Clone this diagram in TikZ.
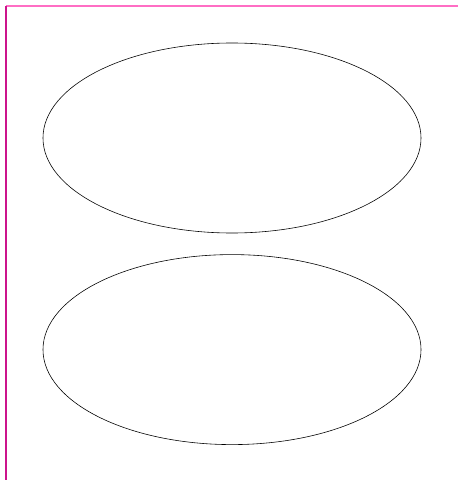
\documentclass[tikz,border=0pt]{standalone}
\usepackage{xcolor}
\usepackage{tikz}
\usetikzlibrary{shapes.geometric,positioning}
\definecolor{framepink}{RGB}{255,110,196}
\definecolor{framemagenta}{RGB}{204,20,140}

\begin{document}
\begin{tikzpicture}[x=0.03cm, y=-0.03cm,
    oval/.style={draw=black, ellipse, line width=0.5pt, minimum width=11.34cm, minimum height=5.7cm, inner sep=0pt},
    topline/.style={color=framepink, line width=1.2pt},
    sideline/.style={color=framemagenta, line width=1.1pt}
]
    \useasboundingbox (0,0) rectangle (458,480);

    % Frame corner
    \coordinate (c_corner) at (6,6);
    \coordinate (c_right) at (458,6);
    \coordinate (c_bottom) at (6,480);
    \draw[topline] (c_corner) -- (c_right);
    \draw[sideline] (c_corner) -- (c_bottom);

    % Ovals
    \node[oval] (o_top) at (232,138) {};
    \node[oval, below=0.63cm of o_top] (o_bot) {};

\end{tikzpicture}
\end{document}
